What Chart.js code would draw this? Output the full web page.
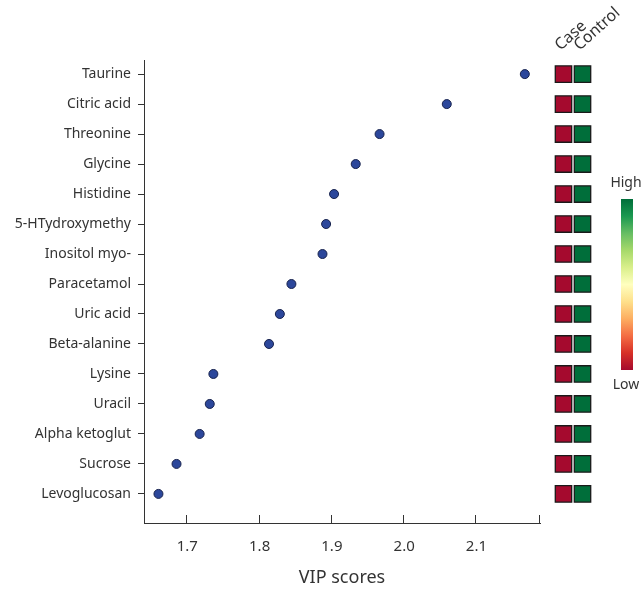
<!DOCTYPE html>
<html>
<head>
<meta charset="utf-8">
<script src="https://cdn.jsdelivr.net/npm/chart.js@4"></script>
<style>
  body { margin: 0; background: #fff; }
  #wrap { position: relative; width: 642px; height: 589px; }
  #main { position: absolute; left: 0; top: 0; }
  #heat { position: absolute; left: 540px; top: 0; }
</style>
</head>
<body>
<div id="wrap">
  <canvas id="main" width="642" height="589"></canvas>
  <canvas id="heat" width="102" height="589"></canvas>
</div>
<script>
// metabolites, top to bottom
const metabolites = ['Taurine', 'Citric acid', 'Threonine', 'Glycine', 'Histidine',
  '5-HTydroxymethy', 'Inositol myo-', 'Paracetamol', 'Uric acid', 'Beta-alanine',
  'Lysine', 'Uracil', 'Alpha ketoglut', 'Sucrose', 'Levoglucosan'];

// VIP scores
const vipScores = [2.167, 2.059, 1.966, 1.933, 1.903, 1.892, 1.887, 1.844,
  1.828, 1.813, 1.736, 1.731, 1.717, 1.685, 1.660];

const xTicks = [1.7, 1.8, 1.9, 2.0, 2.1];

// heatmap: relative level 0 = low, 1 = high
const groups = ['Case', 'Control'];
const caseLevels = [0, 0, 0, 0, 0, 0, 0, 0, 0, 0, 0, 0, 0, 0, 0];
const controlLevels = [1, 1, 1, 1, 1, 1, 1, 1, 1, 1, 1, 1, 1, 1, 1];

// RdYlGn style colour ramp, low -> high
const ramp = ['#a50a2e', '#d73027', '#f46d43', '#fdae61', '#fee08b', '#ffffbf',
  '#d9ef8b', '#a6d96a', '#66bd63', '#1a9850', '#006e3a'];

const textColor = '#333';
const fontFamily = '"Noto Sans", "Open Sans", sans-serif';
const yMin = -0.47, yMax = 14.97;

function levelColor(v) {
  return ramp[Math.round(v * (ramp.length - 1))];
}

// inward ticks on the x axis
const innerTicks = {
  id: 'innerTicks',
  afterDraw(chart) {
    const ctx = chart.ctx;
    const x = chart.scales.x;
    const bottom = chart.chartArea.bottom;
    ctx.save();
    ctx.strokeStyle = textColor;
    ctx.lineWidth = 1;
    const vals = xTicks.concat([x.max]);
    vals.forEach(v => {
      const px = Math.round(x.getPixelForValue(v)) - 0.5;
      ctx.beginPath();
      ctx.moveTo(px, bottom);
      ctx.lineTo(px, bottom - 8);
      ctx.stroke();
    });
    ctx.restore();
  }
};

new Chart(document.getElementById('main'), {
  type: 'scatter',
  data: {
    datasets: [{
      data: vipScores.map((v, i) => ({ x: v, y: i })),
      backgroundColor: '#2c479b',
      borderColor: '#17224d',
      borderWidth: 1,
      pointRadius: 4.5,
      pointHoverRadius: 4.5
    }]
  },
  options: {
    responsive: false,
    animation: false,
    layout: { padding: { top: 60, right: 102, left: 0, bottom: 0 } },
    plugins: { legend: { display: false }, tooltip: { enabled: false } },
    scales: {
      x: {
        type: 'linear',
        min: 1.64,
        max: 2.188,
        afterBuildTicks: s => { s.ticks = xTicks.map(v => ({ value: v })); },
        afterFit: s => { s.height = 66; },
        grid: { display: false, drawTicks: false },
        border: { display: true, color: textColor, width: 1 },
        ticks: {
          padding: 15,
          color: textColor,
          font: { family: fontFamily, size: 15 },
          callback: v => v.toFixed(1)
        },
        title: {
          display: true,
          text: 'VIP scores',
          color: textColor,
          font: { family: fontFamily, size: 18 },
          padding: { top: 0, bottom: 0 }
        }
      },
      y: {
        type: 'linear',
        reverse: true,
        min: yMin,
        max: yMax,
        afterBuildTicks: s => { s.ticks = metabolites.map((m, i) => ({ value: i })); },
        afterFit: s => { s.width = 144; },
        grid: { drawOnChartArea: false, drawTicks: true, tickLength: 6, color: textColor },
        border: { display: true, color: textColor, width: 1 },
        ticks: {
          padding: 7,
          color: textColor,
          font: { family: fontFamily, size: 14 },
          callback: v => metabolites[v]
        }
      }
    }
  },
  plugins: [innerTicks]
});

// colour bar with High / Low labels, and slanted group labels
const colorBar = {
  id: 'colorBar',
  afterDraw(chart) {
    const ctx = chart.ctx;
    const x0 = 81, w = 12, top = 199, bottom = 370;
    const g = ctx.createLinearGradient(0, bottom, 0, top);
    ramp.forEach((c, i) => g.addColorStop(i / (ramp.length - 1), c));
    ctx.save();
    ctx.fillStyle = g;
    ctx.fillRect(x0, top, w, bottom - top);
    ctx.fillStyle = textColor;
    ctx.font = '14px ' + fontFamily;
    ctx.textAlign = 'center';
    ctx.textBaseline = 'middle';
    ctx.fillText('High', 86, 183);
    ctx.fillText('Low', 86, 385);

    const xs = chart.scales.x;
    ctx.font = '16px ' + fontFamily;
    ctx.textAlign = 'left';
    ctx.textBaseline = 'alphabetic';
    groups.forEach((name, i) => {
      ctx.save();
      ctx.translate(xs.getPixelForValue(i) - 3, 51);
      ctx.rotate(-Math.PI / 4.3);
      ctx.fillText(name, 0, 0);
      ctx.restore();
    });
    ctx.restore();
  }
};

const cells = [];
caseLevels.forEach((v, i) => cells.push({ x: groups[0], y: i, c: levelColor(v) }));
controlLevels.forEach((v, i) => cells.push({ x: groups[1], y: i, c: levelColor(v) }));

new Chart(document.getElementById('heat'), {
  type: 'scatter',
  data: {
    datasets: [{
      data: cells,
      pointStyle: 'rect',
      pointRadius: 11.6,
      pointHoverRadius: 11.6,
      backgroundColor: cells.map(d => d.c),
      borderColor: '#1a1a1a',
      borderWidth: 1.3
    }]
  },
  options: {
    responsive: false,
    animation: false,
    layout: { padding: { top: 60, right: 50, left: 14, bottom: 66 } },
    plugins: { legend: { display: false }, tooltip: { enabled: false } },
    scales: {
      x: {
        type: 'category',
        labels: groups,
        offset: true,
        display: false
      },
      y: {
        type: 'linear',
        display: false,
        reverse: true,
        min: yMin,
        max: yMax
      }
    }
  },
  plugins: [colorBar]
});
</script>
</body>
</html>
